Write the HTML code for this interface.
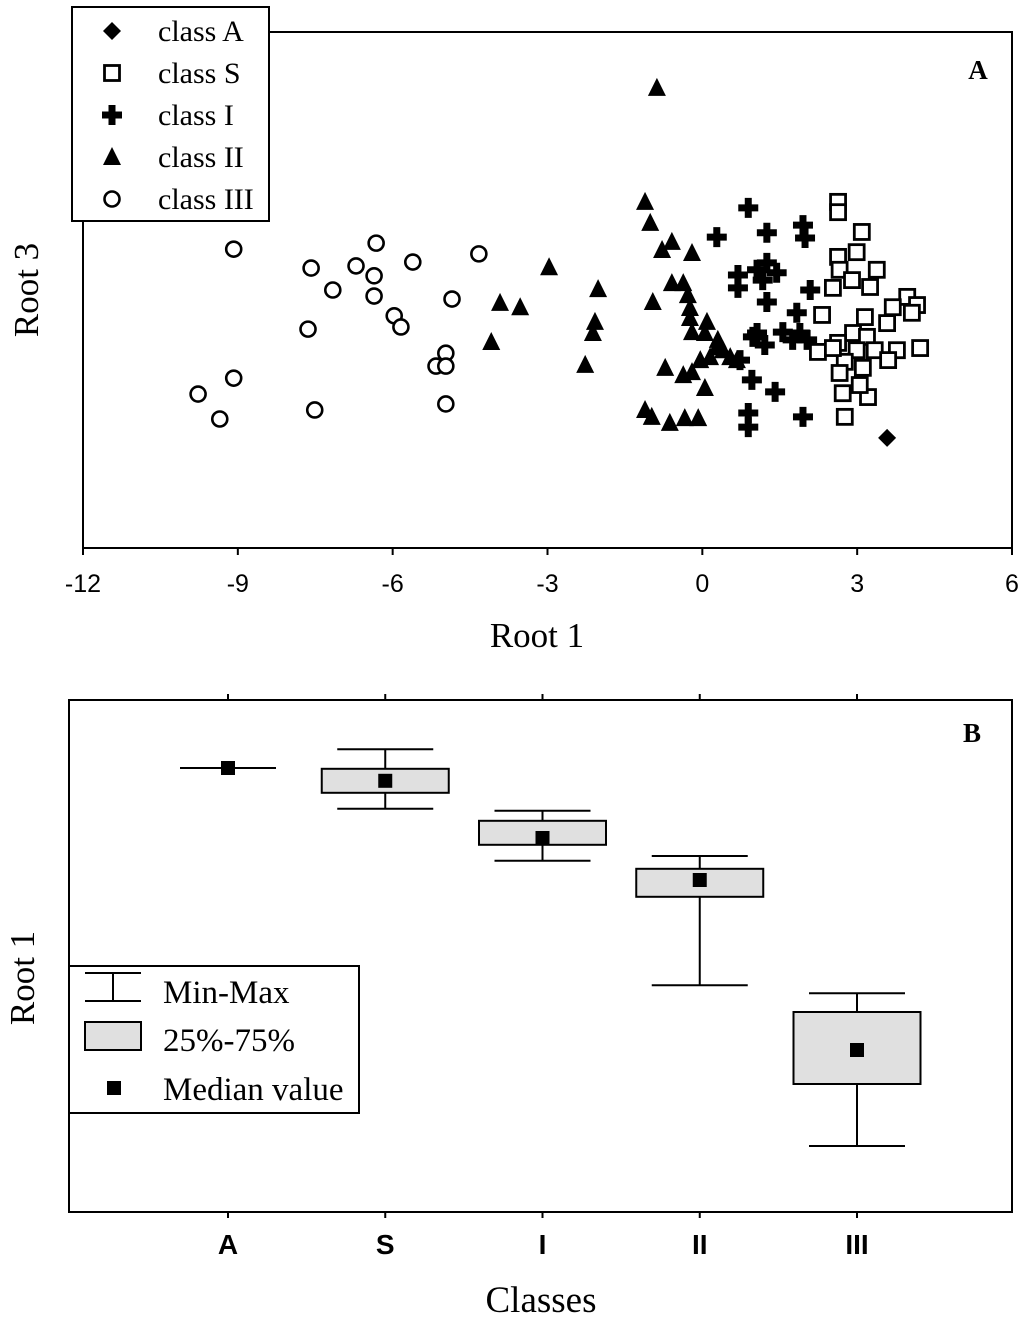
<!DOCTYPE html>
<html><head><meta charset="utf-8"><style>
html,body{margin:0;padding:0;background:#fff;}
svg{display:block;}
</style></head><body>
<svg id="chart" width="1024" height="1319" viewBox="0 0 1024 1319" xmlns="http://www.w3.org/2000/svg">
<g id="gA"></g>
<g id="gB"></g>
</svg>
<script>
// ---------- Panel A data ----------
const xTicksA = [-12, -9, -6, -3, 0, 3, 6];
const classA_x = [3.58];
const classA_y = [-3.44];
const classS_x = [2.63,2.63,3.09,2.99,2.63,3.38,2.66,2.90,3.25,2.53,2.32,3.97,4.16,3.69,4.06,3.15,3.58,2.92,2.63,3.19,2.24,2.99,3.34,3.77,4.22,2.76,3.11,2.66,2.72,3.21,3.05,2.76,3.60,2.53];
const classS_y = [2.05,1.81,1.35,0.88,0.77,0.47,0.47,0.23,0.07,0.05,-0.58,-0.16,-0.35,-0.40,-0.53,-0.63,-0.77,-1.0,-1.23,-1.09,-1.44,-1.40,-1.40,-1.40,-1.35,-1.67,-1.81,-1.93,-2.40,-2.49,-2.21,-2.95,-1.63,-1.35];
const classI_x = [0.89,0.28,1.25,1.95,1.99,0.69,1.06,1.25,1.44,0.69,1.17,1.25,2.09,1.83,0.98,1.21,1.56,1.89,2.03,1.75,0.73,0.96,1.41,0.89,0.89,1.95,1.06];
const classI_y = [1.91,1.23,1.33,1.51,1.21,0.35,0.47,0.63,0.40,0.05,0.23,-0.28,0,-0.53,-1.09,-1.28,-0.98,-1.0,-1.16,-1.16,-1.63,-2.09,-2.37,-2.86,-3.19,-2.95,-1.0];
const classII_x = [-0.88,-2.97,-2.02,-3.92,-3.53,-2.08,-2.12,-4.09,-2.27,-1.11,-1.01,-0.59,-0.78,-0.20,-0.59,-0.37,-0.96,-0.28,-0.24,-0.24,0.09,-0.20,0.05,0.30,-0.04,0.15,0.40,0.54,0.67,-0.72,-0.37,-0.20,0.05,-1.11,-0.98,-0.63,-0.34,-0.08,0.28];
const classII_y = [4.70,0.53,0.02,-0.30,-0.40,-0.74,-1.0,-1.21,-1.74,2.05,1.56,1.12,0.93,0.86,0.16,0.16,-0.28,-0.12,-0.42,-0.65,-0.74,-0.98,-1.0,-1.16,-1.63,-1.56,-1.40,-1.56,-1.63,-1.81,-1.98,-1.91,-2.28,-2.79,-2.95,-3.09,-2.98,-2.98,-1.33];
const classIII_x = [-9.08,-7.58,-6.71,-6.32,-6.36,-5.61,-4.33,-7.16,-6.36,-4.85,-5.97,-5.84,-7.64,-4.97,-5.16,-4.97,-9.77,-9.08,-9.35,-7.51,-4.97];
const classIII_y = [0.95,0.51,0.56,1.09,0.33,0.65,0.84,0,-0.14,-0.21,-0.60,-0.86,-0.91,-1.47,-1.77,-1.77,-2.42,-2.05,-3.0,-2.79,-2.65];

// ---------- Panel B data ----------
const categoriesB = ["A","S","I","II","III"];
const maxB = [4.7, 5.17, 3.63, 2.5, -0.93];
const q3B = [4.7, 4.68, 3.38, 2.18, -1.4];
const medianB = [4.7, 4.38, 2.95, 1.9, -2.35];
const q1B = [4.7, 4.08, 2.78, 1.48, -3.2];
const minB = [4.7, 3.68, 2.38, -0.73, -4.75];

const NS = "http://www.w3.org/2000/svg";
function mk(parent, tag, attrs, text){
  const e = document.createElementNS(NS, tag);
  for (const k in attrs) e.setAttribute(k, attrs[k]);
  if (text !== undefined) e.textContent = text;
  parent.appendChild(e);
  return e;
}
const SERIF = '"Liberation Serif", serif';
const SANS = '"Liberation Sans", sans-serif';

// ---------- Panel A ----------
const gA = document.getElementById('gA');
const AL=83, AR=1012, AT=32, AB=548;
const xA = v => AL + (v + 12) * (AR - AL) / 18;
const yA = v => 290 - v * 43;

let fr = mk(gA,'rect',{x:AL,y:AT,width:AR-AL,height:AB-AT,fill:'none',stroke:'#000','stroke-width':2});


xTicksA.forEach(t=>{
  const l = mk(gA,'line',{x1:xA(t),x2:xA(t),y1:AB,y2:AB+7,stroke:'#000','stroke-width':2});
  
  
  const tx = mk(gA,'text',{x:xA(t),y:592,'font-family':SANS,'font-size':25,'text-anchor':'middle'}, String(t));
  
  
});

function drawMarker(g, type, cx, cy){
  let e;
  if (type==='diamond'){
    e = mk(g,'polygon',{points:`${cx},${cy-9} ${cx+9},${cy} ${cx},${cy+9} ${cx-9},${cy}`,fill:'#000'});
  } else if (type==='square'){
    e = mk(g,'rect',{x:cx-7.5,y:cy-7.5,width:15,height:15,fill:'#fff',stroke:'#000','stroke-width':2.8});
  } else if (type==='cross'){
    e = mk(g,'path',{d:`M${cx-3.5},${cy-10}h7v6.5h6.5v7h-6.5v6.5h-7v-6.5h-6.5v-7h6.5z`,fill:'#000'});
  } else if (type==='triangle'){
    e = mk(g,'polygon',{points:`${cx},${cy-10} ${cx+9},${cy+8} ${cx-9},${cy+8}`,fill:'#000'});
  } else {
    e = mk(g,'circle',{cx:cx,cy:cy,r:7.5,fill:'#fff',stroke:'#000','stroke-width':2.6});
  }
  return e;
}
function series(xs, ys, type, name){
  const g = mk(gA,'g',{});
  
  
  xs.forEach((x,i)=>{
    const m = drawMarker(g, type, xA(x), yA(ys[i]));
    
    
  });
}
series(classIII_x, classIII_y, 'circle', 'class-iii-series');
series(classII_x, classII_y, 'triangle', 'class-ii-series');
series(classI_x, classI_y, 'cross', 'class-i-series');
series(classS_x, classS_y, 'square', 'class-s-series');
series(classA_x, classA_y, 'diamond', 'class-a-series');

// legend A
const lgA = mk(gA,'g',{});


mk(lgA,'rect',{x:72,y:7,width:197,height:214,fill:'#fff',stroke:'#000','stroke-width':2});
const legItems = [['diamond','class A'],['square','class S'],['cross','class I'],['triangle','class II'],['circle','class III']];
legItems.forEach((it,i)=>{
  const cy = 31 + i*42;
  const ge = mk(lgA,'g',{});
  
  
  drawMarker(ge, it[0], 112, cy);
  mk(ge,'text',{x:158,y:cy+10,'font-family':SERIF,'font-size':30}, it[1]);
});
let t;
t = mk(gA,'text',{x:978,y:79,'font-family':SERIF,'font-size':27,'font-weight':'bold','text-anchor':'middle'},'A');
 
t = mk(gA,'text',{x:537,y:647,'font-family':SERIF,'font-size':35,'text-anchor':'middle'},'Root 1');
 
t = mk(gA,'text',{x:0,y:0,'font-family':SERIF,'font-size':35,'text-anchor':'middle',transform:'translate(38,290) rotate(-90)'},'Root 3');
 

// ---------- Panel B ----------
const gB = document.getElementById('gB');
const BL=69, BR=1012, BT=700, BB=1212;
const xB = i => 228 + i * 157.25;
const yB = v => 956 - v * 40;

fr = mk(gB,'rect',{x:BL,y:BT,width:BR-BL,height:BB-BT,fill:'none',stroke:'#000','stroke-width':2});


categoriesB.forEach((c,i)=>{
  const x = xB(i);
  mk(gB,'line',{x1:x,x2:x,y1:BT,y2:BT-6,stroke:'#000','stroke-width':2});
  mk(gB,'line',{x1:x,x2:x,y1:BB,y2:BB+6,stroke:'#000','stroke-width':2});
  const tx = mk(gB,'text',{x:x,y:1254,'font-family':SANS,'font-size':28,'font-weight':'bold','text-anchor':'middle'},c);
  
  

  const g = mk(gB,'g',{});
  
  
  const st = {stroke:'#000','stroke-width':2};
  mk(g,'line',Object.assign({x1:x,x2:x,y1:yB(maxB[i]),y2:yB(minB[i])},st));
  mk(g,'line',Object.assign({x1:x-48,x2:x+48,y1:yB(maxB[i]),y2:yB(maxB[i])},st));
  mk(g,'line',Object.assign({x1:x-48,x2:x+48,y1:yB(minB[i]),y2:yB(minB[i])},st));
  const h = yB(q1B[i]) - yB(q3B[i]);
  if (h > 0.5) mk(g,'rect',{x:x-63.5,y:yB(q3B[i]),width:127,height:h,fill:'#e0e0e0',stroke:'#000','stroke-width':2});
  mk(g,'rect',{x:x-7,y:yB(medianB[i])-7,width:14,height:14,fill:'#000'});
});

// legend B
const lgB = mk(gB,'g',{});


mk(lgB,'rect',{x:69,y:966,width:290,height:147,fill:'#fff',stroke:'#000','stroke-width':2});
let e1 = mk(lgB,'g',{});  
mk(e1,'path',{d:'M85,973H141M113,973V1001M85,1001H141',stroke:'#000','stroke-width':2,fill:'none'});
mk(e1,'text',{x:163,y:1003,'font-family':SERIF,'font-size':33},'Min-Max');
let e2 = mk(lgB,'g',{});  
mk(e2,'rect',{x:85,y:1022,width:56,height:28,fill:'#e0e0e0',stroke:'#000','stroke-width':2});
mk(e2,'text',{x:163,y:1051,'font-family':SERIF,'font-size':33},'25%-75%');
let e3 = mk(lgB,'g',{});  
mk(e3,'rect',{x:107,y:1081,width:14,height:14,fill:'#000'});
mk(e3,'text',{x:163,y:1100,'font-family':SERIF,'font-size':33},'Median value');

t = mk(gB,'text',{x:972,y:742,'font-family':SERIF,'font-size':27,'font-weight':'bold','text-anchor':'middle'},'B');
 
t = mk(gB,'text',{x:541,y:1312,'font-family':SERIF,'font-size':37,'text-anchor':'middle'},'Classes');
 
t = mk(gB,'text',{x:0,y:0,'font-family':SERIF,'font-size':35,'text-anchor':'middle',transform:'translate(34,978) rotate(-90)'},'Root 1');
 
</script>
</body></html>
